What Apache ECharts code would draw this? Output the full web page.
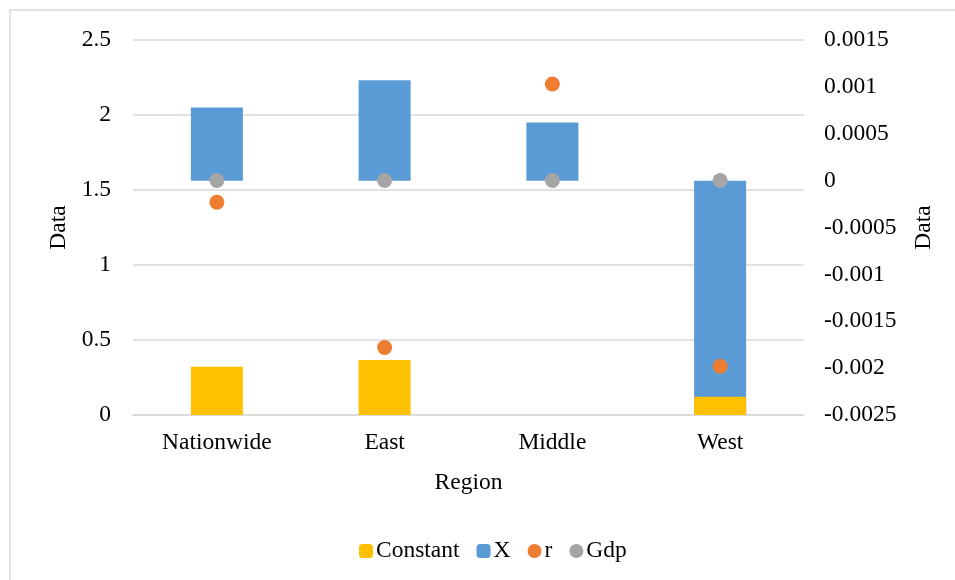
<!DOCTYPE html>
<html>
<head>
<meta charset="utf-8">
<script src="https://cdn.jsdelivr.net/npm/echarts@6/dist/echarts.min.js"></script>
<style>
  html, body { margin: 0; padding: 0; background: #fff; }
  #chart { width: 955px; height: 580px; }
</style>
</head>
<body>
<div id="chart"></div>
<script>
// Regional regression coefficients
const regions = ['Nationwide', 'East', 'Middle', 'West'];
const constantVals = [0.322, 0.367, null, 0.122];          // left axis
const xVals = [0.00078, 0.00107, 0.00062, -0.0025];         // right axis
const rVals = [-0.00023, -0.00178, 0.00103, -0.00198];      // right axis
const gdpVals = [0.000002, 0.000001, 0.000001, 0.000001];   // right axis

const FONT = "'Liberation Serif', 'Times New Roman', serif";
const GRID_COLOR = '#d9d9d9';
const textStyle = { fontFamily: FONT, fontSize: 23.5, color: '#000' };

const chart = echarts.init(document.getElementById('chart'));
chart.setOption({
  animation: false,
  textStyle: textStyle,
  graphic: [{
    type: 'rect',
    shape: { x: 10, y: 10, width: 1000, height: 600 },
    style: { fill: 'none', stroke: GRID_COLOR, lineWidth: 1.5 },
    silent: true
  }],
  grid: { left: 133, right: 151, top: 40, bottom: 165 },
  legend: {
    data: ['Constant', 'X', 'r', 'Gdp'],
    left: 354,
    top: 534,
    itemWidth: 14,
    itemHeight: 14,
    itemGap: 17,
    textStyle: Object.assign({}, textStyle, { padding: [0, 0, 0, -2] })
  },
  xAxis: {
    type: 'category',
    data: regions,
    name: 'Region',
    nameLocation: 'middle',
    nameGap: 56,
    nameTextStyle: textStyle,
    axisLine: { lineStyle: { color: GRID_COLOR, width: 1.5 } },
    axisTick: { show: false },
    axisLabel: Object.assign({ margin: 16 }, textStyle)
  },
  yAxis: [{
    type: 'value',
    min: 0, max: 2.5, interval: 0.5,
    name: 'Data',
    nameLocation: 'middle',
    nameRotate: 90,
    nameGap: 62,
    nameTextStyle: textStyle,
    axisLine: { show: false },
    axisTick: { show: false },
    splitLine: { lineStyle: { color: GRID_COLOR, width: 1.5 } },
    axisLabel: Object.assign({ margin: 22 }, textStyle)
  }, {
    type: 'value',
    position: 'right',
    min: -0.0025, max: 0.0015, interval: 0.0005,
    name: 'Data',
    nameLocation: 'middle',
    nameRotate: 90,
    nameGap: 108,
    nameTextStyle: textStyle,
    axisLine: { show: false },
    axisTick: { show: false },
    splitLine: { show: false },
    axisLabel: Object.assign({
      margin: 20,
      formatter: v => String(parseFloat(v.toFixed(4)))
    }, textStyle)
  }],
  series: [{
    name: 'Constant',
    type: 'bar',
    yAxisIndex: 0,
    data: constantVals,
    barWidth: 52,
    barGap: '-100%',
    z: 3,
    itemStyle: { color: '#FFC000' }
  }, {
    name: 'X',
    type: 'bar',
    yAxisIndex: 1,
    data: xVals,
    barWidth: 52,
    barGap: '-100%',
    z: 2,
    itemStyle: { color: '#5B9BD5' }
  }, {
    name: 'r',
    type: 'scatter',
    yAxisIndex: 1,
    data: rVals,
    symbolSize: 15,
    z: 4,
    itemStyle: { color: '#ED7D31', opacity: 1 }
  }, {
    name: 'Gdp',
    type: 'scatter',
    yAxisIndex: 1,
    data: gdpVals,
    symbolSize: 15,
    z: 4,
    itemStyle: { color: '#A5A5A5', opacity: 1 }
  }]
});
</script>
</body>
</html>
